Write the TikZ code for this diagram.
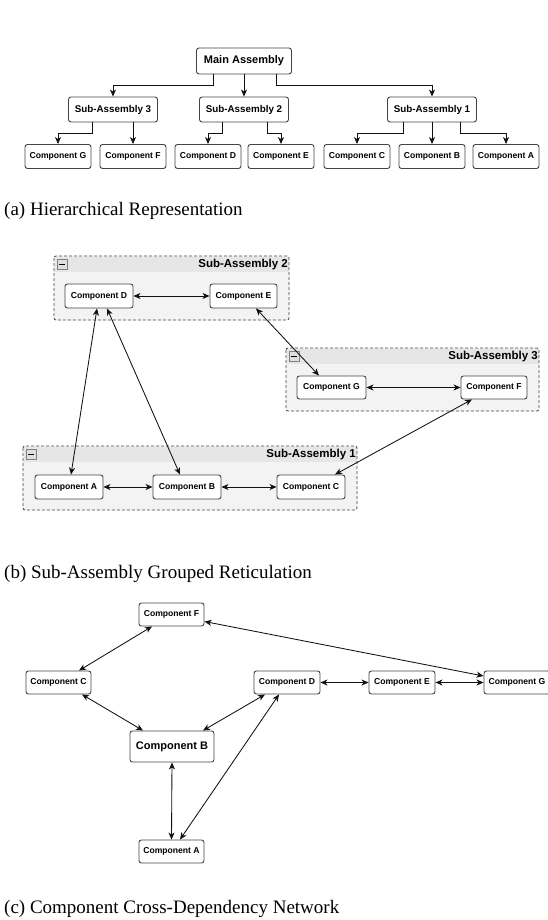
\documentclass[tikz,border=0pt]{standalone}
\usepackage{fontspec}
\setmainfont{Liberation Serif}
\setsansfont{Liberation Sans}
\usetikzlibrary{positioning, arrows.meta, calc}

\definecolor{boxline}{HTML}{444444}
\definecolor{headgray}{HTML}{E6E6E6}
\definecolor{bodygray}{HTML}{F3F3F3}
\definecolor{arrowgray}{HTML}{111111}

\tikzset{
	comp/.style={draw=boxline, fill=white, line width=0.9pt, rounded corners=2.5pt, inner sep=0pt,
		minimum width=66pt, minimum height=24pt, font=\sffamily\bfseries\fontsize{8.6}{10}\selectfont},
	bigcomp/.style={comp, minimum width=84pt, minimum height=31pt, font=\sffamily\bfseries\fontsize{11}{13}\selectfont},
	subbox/.style={comp, minimum width=89pt, minimum height=25pt, font=\sffamily\bfseries\fontsize{9.8}{12}\selectfont},
	mainbox/.style={comp, minimum width=95pt, minimum height=26pt, font=\sffamily\bfseries\fontsize{11}{13}\selectfont},
	arr/.style={draw=arrowgray, line width=0.85pt, -{Stealth[length=7pt,width=6pt,inset=2pt]}},
	darr/.style={arr, {Stealth[length=7pt,width=6pt,inset=2pt]}-{Stealth[length=7pt,width=6pt,inset=2pt]}},
	caption/.style={anchor=base west, inner sep=0pt, font=\fontsize{19}{22}\selectfont},
	grouptitle/.style={anchor=north east, inner sep=0pt, font=\sffamily\bfseries\fontsize{11.5}{13}\selectfont}
}

% group frame: name, x1, y1, x2, y2, title
\newcommand{\subgroup}[6]{%
	\fill[bodygray, rounded corners=2pt] (#2,#3) rectangle (#4,#5);
	\fill[headgray] ({#2+0.5},{#3+0.5}) rectangle ({#4-0.5},{#3+16});
	\draw[gray, fill=gray!25, line width=0.6pt] ({#2+3},{#3+3}) rectangle ({#2+13},{#3+13});
	\draw[black, line width=0.8pt] ({#2+5},{#3+8}) -- ({#2+11},{#3+8});
	\node[grouptitle] (#1title) at ({#4-1},{#3+2.5}) {#6};
	\draw[boxline, line width=0.8pt, dash pattern=on 3pt off 2pt, rounded corners=2pt] (#2,#3) rectangle (#4,#5);
}

\begin{document}
\begin{tikzpicture}[x=1pt, y=-1pt]
	\useasboundingbox (0,0) rectangle (548,920);
	
	% (a) Draw hierarchy
	\node[mainbox] (main) at (244,61) {Main Assembly};
	\foreach \n/\x in {3/113, 2/244, 1/432}
	\node[subbox] (s\n) at (\x,109.5) {Sub-Assembly \n};
	\foreach \name/\x in {G/58, F/133, D/208, E/281, C/357, B/432, A/506}
	\node[comp] (a\name) at (\x,156.5) {Component \name};
	
	\draw[arr] ([xshift=-31pt]main.south) -- ++(0,11) -| (s3.north);
	\draw[arr] (main.south) -- (s2.north);
	\draw[arr] ([xshift=32pt]main.south) -- ++(0,11) -| (s1.north);
	\draw[arr] ([xshift=-21pt]s3.south) -- ++(0,11) -| (aG.north);
	\draw[arr] (s3.south -| aF.north) -- (aF.north);
	\draw[arr] ([xshift=-22pt]s2.south) -- ++(0,11) -| (aD.north);
	\draw[arr] ([xshift=23pt]s2.south) -- ++(0,11) -| (aE.north);
	\draw[arr] ([xshift=-29pt]s1.south) -- ++(0,11) -| (aC.north);
	\draw[arr] (s1.south) -- (aB.north);
	\draw[arr] ([xshift=28pt]s1.south) -- ++(0,11) -| (aA.north);
	
	\node[caption] (capa) at (4,215) {(a) Hierarchical Representation};
	
	% (b) Draw groups
	\subgroup{g2}{54}{256}{289}{320}{Sub-Assembly 2}
	\subgroup{g3}{286}{348}{539}{411}{Sub-Assembly 3}
	\subgroup{g1}{23}{446}{357}{510}{Sub-Assembly 1}
	
	\node[comp, minimum width=68pt] (bD) at (99,296) {Component D};
	\node[comp, minimum width=67pt] (bE) at (243.5,296) {Component E};
	\node[comp, minimum width=69pt, minimum height=23pt] (bG) at (331.5,387.5) {Component G};
	\node[comp, minimum height=23pt] (bF) at (494,387.5) {Component F};
	\foreach \name/\x in {A/69, B/187, C/311}
	\node[comp, minimum width=68pt] (b\name) at (\x,487) {Component \name};
	
	\draw[darr] (bD.east) -- (bE.west);
	\draw[darr] (bG.east) -- (bF.west);
	\draw[darr] (bA.east) -- (bB.west);
	\draw[darr] (bB.east) -- (bC.west);
	\draw[darr] ([xshift=12.5pt]bE.south) -- ([xshift=-12.5pt]bG.north);
	\draw[darr] ([xshift=-2pt]bD.south) -- ([xshift=2pt]bA.north);
	\draw[darr] ([xshift=8pt]bD.south) -- ([xshift=-7pt]bB.north);
	\draw[darr] ([xshift=24pt]bC.north) -- ([xshift=-22pt]bF.south);
	
	\node[caption] (capb) at (4,578) {(b) Sub-Assembly Grouped Reticulation};
	
	% (c) Draw network
	\node[comp, minimum width=65pt, minimum height=23pt] (cF) at (171.5,614.5) {Component F};
	\node[comp, minimum width=65pt, minimum height=23pt] (cC) at (58.5,682.5) {Component C};
	\foreach \name/\x in {D/287, E/402, G/517}
	\node[comp, minimum height=23pt] (c\name) at (\x,682.5) {Component \name};
	\node[bigcomp] (cB) at (172,746.5) {Component B};
	\node[comp, minimum width=65pt, minimum height=23pt] (cA) at (171.5,851.5) {Component A};
	
	\draw[darr] ([xshift=-19.5pt]cF.south) -- ([xshift=20.5pt]cC.north);
	\draw[darr] ([xshift=23.5pt]cC.south) -- ([xshift=-29pt]cB.north);
	\draw[darr] ([xshift=31pt]cB.north) -- ([xshift=-22pt]cD.south);
	\draw[darr] ([xshift=-8pt]cD.south) -- ([xshift=8.5pt]cA.north);
	\draw[darr] (cB.south) -- (cA.north);
	\draw[darr] ([yshift=-7pt]cF.east) -- ([yshift=6.5pt]cG.west);
	\draw[darr] (cD.east) -- (cE.west);
	\draw[darr] (cE.east) -- (cG.west);
	
	\node[caption] (capc) at (4,913) {(c) Component Cross-Dependency Network};
\end{tikzpicture}
\end{document}
